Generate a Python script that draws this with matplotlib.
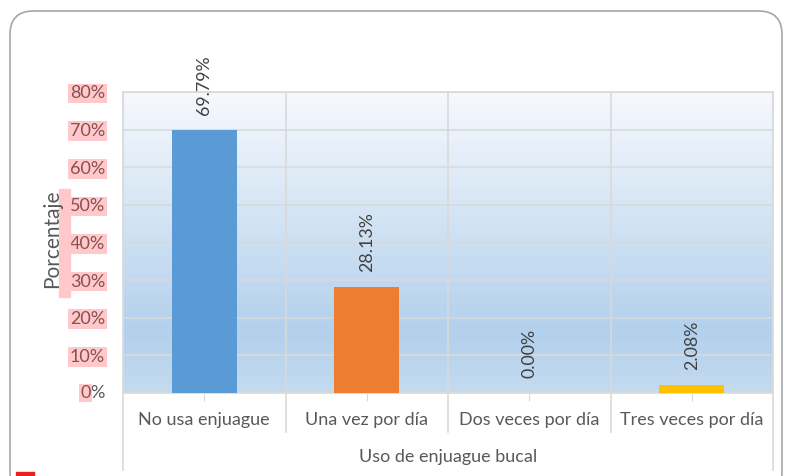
import numpy as np
import matplotlib
matplotlib.use("Agg")
import matplotlib.pyplot as plt
from matplotlib.patches import FancyBboxPatch, Rectangle
from matplotlib.colors import LinearSegmentedColormap
from matplotlib.transforms import blended_transform_factory

# Datos del gráfico
categorias = ["No usa enjuague", "Una vez por día", "Dos veces por día", "Tres veces por día"]
porcentajes = [0.6979, 0.2813, 0.0000, 0.0208]
colores = ["#5B9BD5", "#ED7D31", "#A5A5A5", "#FFC000"]
etiquetas_y = ["0%", "10%", "20%", "30%", "40%", "50%", "60%", "70%", "80%"]
valores_y = [0.0, 0.1, 0.2, 0.3, 0.4, 0.5, 0.6, 0.7, 0.8]

plt.rcParams["font.family"] = ["Lato", "DejaVu Sans"]
gris = "#595959"
rosa = "#FFC9CC"
linea = "#D9D9D9"
fs = 13

W, H = 785, 476
fig = plt.figure(figsize=(W / 100, H / 100), dpi=100)

# Marco redondeado
marco = FancyBboxPatch((10 / W, -20 / H), 772 / W, (H - 11 + 20) / H,
                       boxstyle="round,pad=0,rounding_size=0.03",
                       transform=fig.transFigure, fill=False,
                       edgecolor="#A6A6A6", linewidth=1.2, mutation_aspect=W / H)
fig.patches.append(marco)
fig.patches.append(Rectangle((16 / W, 0), 18 / W, 4 / H, transform=fig.transFigure,
                             color="#E8221B", zorder=5))

x0, x1 = 123, 773
y0, y1 = 92, 393
ax = fig.add_axes([x0 / W, 1 - y1 / H, (x1 - x0) / W, (y1 - y0) / H])

# Fondo degradado
cmap = LinearSegmentedColormap.from_list(
    "fondo", [(0, "#C4DBEF"), (0.2, "#B3D0EC"), (1, "#F6F9FD")])
grad = np.linspace(0, 1, 256).reshape(-1, 1)
ax.imshow(grad, aspect="auto", cmap=cmap, origin="lower",
          extent=(-0.5, len(categorias) - 0.5, 0, 0.8), zorder=0)

x = np.arange(len(categorias))
ax.bar(x, porcentajes, width=0.4, color=colores, zorder=3)

for xi, v in zip(x, porcentajes):
    ax.annotate(f"{v * 100:.2f}%", (xi, v), xytext=(0, 11), textcoords="offset points",
                rotation=90, ha="center", va="bottom", fontsize=12.8, color="#404040",
                annotation_clip=False, zorder=4)

ax.set_xlim(-0.5, len(categorias) - 0.5)
ax.set_ylim(0, 0.8)
ax.set_yticks(valores_y)
ax.set_yticklabels([""] + etiquetas_y[1:])
for lab in ax.get_yticklabels():
    lab.set_bbox(dict(facecolor=rosa, edgecolor="none", pad=1))
    lab.set_color("#8A4F4F")
    lab.set_fontsize(fs)

# Etiqueta 0% con solo el "0" resaltado
tr = blended_transform_factory(ax.transAxes, ax.transData)
pct = ax.text(-18 / (x1 - x0), 0, "%", transform=tr, ha="right", va="center",
              fontsize=fs, color=gris)
ax.annotate("0", xy=(0, 0.5), xycoords=pct, ha="right", va="center",
            fontsize=fs, color="#8A4F4F",
            bbox=dict(facecolor=rosa, edgecolor="none", pad=1))

ax.tick_params(axis="y", length=0, pad=13)
ax.set_xticks(x)
ax.set_xticklabels([])
ax.tick_params(axis="x", length=6, color=linea, direction="out")
ax.set_xticks(np.arange(len(categorias) + 1) - 0.5, minor=True)
ax.tick_params(axis="x", which="minor", length=0)

ax.grid(axis="y", color=linea, linewidth=1.2, zorder=1)
ax.grid(axis="x", which="minor", color=linea, linewidth=1.2, zorder=1)
ax.set_axisbelow(True)
for s in ax.spines.values():
    s.set_color(linea)
    s.set_linewidth(1.2)

# Tabla del eje x
trx = blended_transform_factory(ax.transData, ax.transAxes)
bordes = np.arange(len(categorias) + 1) - 0.5
for i, b in enumerate(bordes):
    fondo = -77 / (y1 - y0) if i in (0, len(bordes) - 1) else -39 / (y1 - y0)
    ax.plot([b, b], [0, fondo], transform=trx, color=linea, linewidth=1.2, clip_on=False)
for xi, c in zip(x, categorias):
    ax.text(xi, -27 / (y1 - y0), c, transform=trx, ha="center", va="center",
            fontsize=fs, color=gris)
ax.text(0.5, -64 / (y1 - y0), "Uso de enjuague bucal", transform=ax.transAxes,
        ha="center", va="center", fontsize=fs, color=gris)

# Eje y: título con resaltado parcial
fig.patches.append(Rectangle((59 / W, 1 - 297 / H), 11 / W, 108 / H,
                             transform=fig.transFigure, color=rosa, zorder=0))
fig.text(52 / W, 1 - 239 / H, "Porcentaje", rotation=90, ha="center", va="center",
         fontsize=15, color=gris)

fig.savefig("out.png", dpi=100)
